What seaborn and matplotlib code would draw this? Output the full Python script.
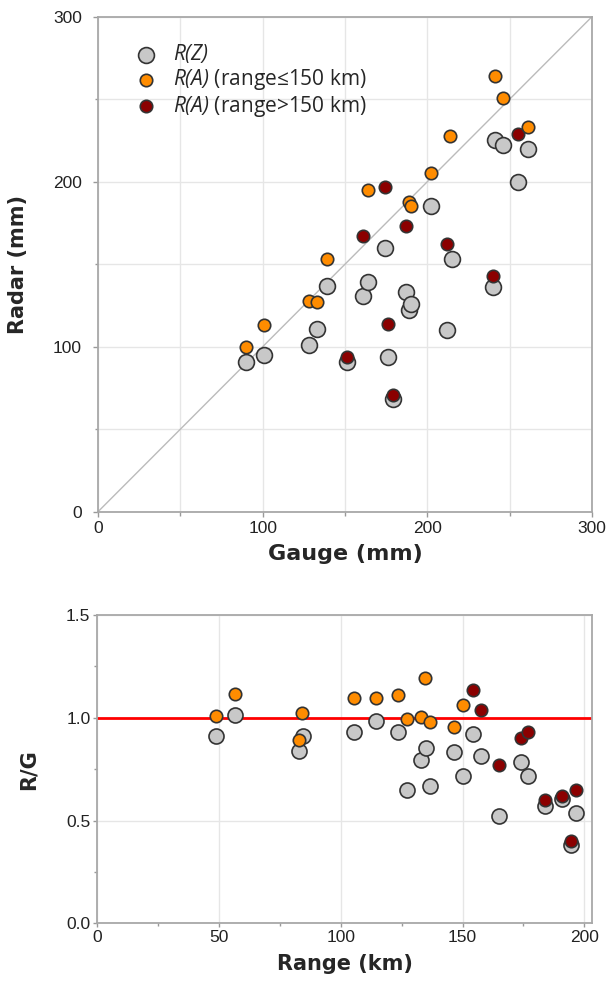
import seaborn as sns
import matplotlib.pyplot as plt
from matplotlib.ticker import MultipleLocator, FormatStrFormatter

# gauge vs radar totals (mm)
gauge_z = [90, 101, 128, 133, 139, 151, 161, 164, 174, 176, 179, 187, 189, 190, 202, 212, 215, 240, 241, 246, 255, 261]
radar_z = [91, 95, 101, 111, 137, 91, 131, 139, 160, 94, 68, 133, 122, 126, 185, 110, 153, 136, 225, 222, 200, 220]

gauge_a_near = [90, 101, 128, 133, 139, 164, 189, 190, 202, 214, 241, 246, 261]
radar_a_near = [100, 113, 128, 127, 153, 195, 188, 185, 205, 228, 264, 251, 233]

gauge_a_far = [151, 161, 174, 176, 179, 187, 212, 240, 255]
radar_a_far = [94, 167, 197, 114, 71, 173, 162, 143, 229]

# ratio R/G against range (km)
range_z = [48.8, 56.7, 84.4, 83.0, 105.6, 114.6, 123.3, 127.1, 132.9, 134.8, 136.6, 146.7, 150.2,
           154.4, 157.4, 164.9, 174.2, 176.7, 183.8, 190.8, 196.6, 194.5]
ratio_z = [0.91, 1.015, 0.91, 0.84, 0.933, 0.982, 0.933, 0.65, 0.793, 0.851, 0.667, 0.833, 0.715,
           0.922, 0.814, 0.522, 0.784, 0.717, 0.569, 0.603, 0.539, 0.38]

range_a_near = [48.8, 56.7, 84.2, 83.0, 105.6, 114.6, 123.4, 127.1, 132.9, 134.6, 136.6, 146.7, 150.2]
ratio_a_near = [1.01, 1.115, 1.022, 0.89, 1.097, 1.097, 1.113, 0.995, 1.003, 1.194, 0.979, 0.955, 1.063]

range_a_far = [154.4, 157.4, 164.9, 174.2, 176.7, 183.8, 190.8, 196.6, 194.5]
ratio_a_far = [1.134, 1.037, 0.768, 0.901, 0.93, 0.599, 0.62, 0.65, 0.401]

labels = [r"$R(Z)$", r"$R(A)$ (range≤150 km)", r"$R(A)$ (range>150 km)"]

sns.set_style("white")
plt.rcParams['font.family'] = ['Liberation Sans', 'DejaVu Sans']
plt.rcParams['mathtext.fontset'] = 'custom'
plt.rcParams['mathtext.it'] = 'Open Sans:italic'
plt.rcParams['mathtext.rm'] = 'Open Sans:italic'

GRAY, ORANGE, DARKRED, EDGE = '#c8c8c8', '#ff8c00', '#8b0000', '#333333'
S_BIG, S_SMALL = 130, 80

fig = plt.figure(figsize=(6.09, 9.84), dpi=100)
ax1 = fig.add_axes([0.161, 0.480, 0.811, 0.503])
ax2 = fig.add_axes([0.160, 0.0617, 0.8125, 0.3133])


def style_axes(ax, length, pad):
    for sp in ax.spines.values():
        sp.set_color('#a8a8a8')
        sp.set_linewidth(1.3)
    ax.tick_params(which='both', direction='out', color='#999999', labelsize=12.5,
                   labelcolor='#222222', bottom=True, left=True, width=1)
    ax.tick_params(which='major', length=length, pad=pad)
    ax.tick_params(which='minor', length=length * 0.7)


# --- top: radar vs gauge
ax1.axline((0, 0), slope=1, color='#bbbbbb', lw=1, zorder=1)
sns.scatterplot(x=gauge_z, y=radar_z, ax=ax1, s=S_BIG, color=GRAY, edgecolor=EDGE, linewidth=1.2,
                label=labels[0], zorder=3)
sns.scatterplot(x=gauge_a_far, y=radar_a_far, ax=ax1, s=S_SMALL, color=DARKRED, edgecolor=EDGE,
                linewidth=1.2, label=labels[2], zorder=4)
sns.scatterplot(x=gauge_a_near, y=radar_a_near, ax=ax1, s=S_SMALL, color=ORANGE, edgecolor=EDGE,
                linewidth=1.2, label=labels[1], zorder=5)
ax1.set_xlim(0, 300)
ax1.set_ylim(0, 300)
ax1.xaxis.set_major_locator(MultipleLocator(100))
ax1.xaxis.set_minor_locator(MultipleLocator(50))
ax1.yaxis.set_major_locator(MultipleLocator(100))
ax1.yaxis.set_minor_locator(MultipleLocator(50))
ax1.grid(which='both', color='#e6e6e6', lw=1)
ax1.set_axisbelow(True)
style_axes(ax1, 3.6, 3)
ax1.tick_params(axis='y', which='major', pad=8)
ax1.set_xlabel('Gauge (mm)', fontsize=16, fontweight='bold', family='DejaVu Sans', labelpad=6)
ax1.set_ylabel('Radar (mm)', fontsize=15, fontweight='bold', family='DejaVu Sans', labelpad=18)
h, l = ax1.get_legend_handles_labels()
order = [l.index(t) for t in labels]
ax1.legend([h[i] for i in order], [l[i] for i in order], loc='upper left', frameon=False,
           prop={'family': 'Open Sans', 'size': 15}, handletextpad=0.3, labelspacing=0.08,
           borderaxespad=0.4, bbox_to_anchor=(0.022, 0.982))

# --- bottom: R/G vs range
ax2.axhline(1.0, color='#ff0000', lw=2, zorder=2)
sns.scatterplot(x=range_z, y=ratio_z, ax=ax2, s=S_BIG * 0.9, color=GRAY, edgecolor=EDGE, linewidth=1.2, zorder=3)
sns.scatterplot(x=range_a_far, y=ratio_a_far, ax=ax2, s=S_SMALL, color=DARKRED, edgecolor=EDGE,
                linewidth=1.2, zorder=4)
sns.scatterplot(x=range_a_near, y=ratio_a_near, ax=ax2, s=S_SMALL, color=ORANGE, edgecolor=EDGE,
                linewidth=1.2, zorder=5)
ax2.set_xlim(0, 203.3)
ax2.set_ylim(0, 1.5)
ax2.xaxis.set_major_locator(MultipleLocator(50))
ax2.xaxis.set_minor_locator(MultipleLocator(25))
ax2.yaxis.set_major_locator(MultipleLocator(0.5))
ax2.yaxis.set_minor_locator(MultipleLocator(0.25))
ax2.yaxis.set_major_formatter(FormatStrFormatter('%.1f'))
ax2.grid(which='major', color='#e6e6e6', lw=1)
ax2.set_axisbelow(True)
style_axes(ax2, 3, 2)
ax2.set_xlabel('Range (km)', fontsize=15, fontweight='bold', family='DejaVu Sans', labelpad=6)
ax2.set_ylabel('R/G', fontsize=15, fontweight='bold', family='DejaVu Sans', labelpad=20)

fig.savefig('out.png', dpi=100)
